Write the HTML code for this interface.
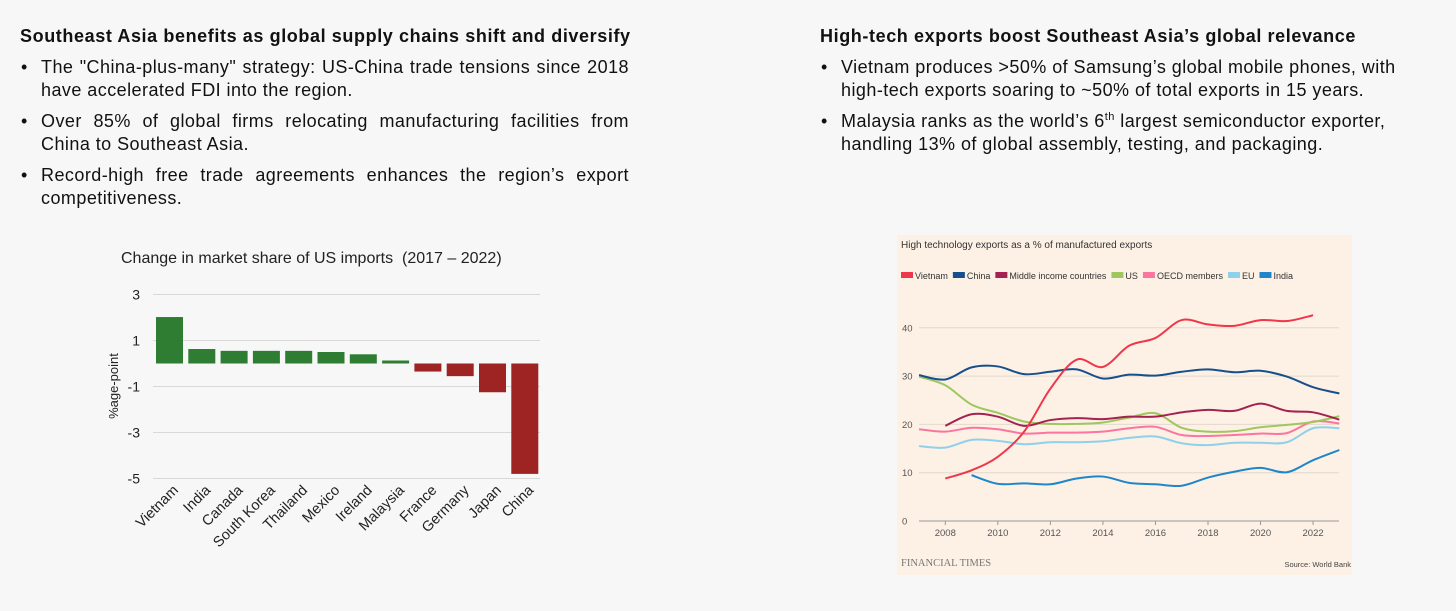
<!DOCTYPE html>
<html><head><meta charset="utf-8">
<style>
body{margin:0;width:1456px;height:611px;background:#f7f7f7;font-family:"Liberation Sans",sans-serif;color:#111;position:relative;overflow:hidden}
.h{position:absolute;font-size:18px;font-weight:bold;top:26px;letter-spacing:0.6px}
.b{position:absolute;font-size:18px;line-height:22.5px;letter-spacing:0.45px}
.b .d{position:absolute;left:-20px}
sup{font-size:11px;line-height:0}
svg{position:absolute;left:0;top:0}
</style></head><body>
<div class="h" style="left:20px">Southeast Asia benefits as global supply chains shift and diversify</div>
<div class="b" style="left:41px;top:56px;width:588px;text-align:justify"><span class="d">•</span>The "China-plus-many" strategy: US-China trade tensions since 2018 have accelerated FDI into the region.</div>
<div class="b" style="left:41px;top:110px;width:588px;text-align:justify"><span class="d">•</span>Over 85% of global firms relocating manufacturing facilities from China to Southeast Asia.</div>
<div class="b" style="left:41px;top:164px;width:588px;text-align:justify"><span class="d">•</span>Record-high free trade agreements enhances the region’s export competitiveness.</div>
<div class="h" style="left:820px">High-tech exports boost Southeast Asia’s global relevance</div>
<div class="b" style="left:841px;top:56px;width:580px"><span class="d">•</span>Vietnam produces &gt;50% of Samsung’s global mobile phones, with high-tech exports soaring to ~50% of total exports in 15 years.</div>
<div class="b" style="left:841px;top:110px;width:580px"><span class="d">•</span>Malaysia ranks as the world’s 6<sup>th</sup> largest semiconductor exporter, handling 13% of global assembly, testing, and packaging.</div>
<svg id="s" width="1456" height="611" xmlns="http://www.w3.org/2000/svg"></svg>
<script>
const barCats=["Vietnam","India","Canada","South Korea","Thailand","Mexico","Ireland","Malaysia","France","Germany","Japan","China"];
const barVals=[2.02,0.63,0.55,0.55,0.55,0.5,0.4,0.13,-0.35,-0.55,-1.25,-4.8];
const barTicks=[3,1,-1,-3,-5];
const years=[2007,2008,2009,2010,2011,2012,2013,2014,2015,2016,2017,2018,2019,2020,2021,2022,2023];
const vietnam=[null,8.8,10.5,13.3,18.5,27.4,33.4,31.9,36.3,37.9,41.6,40.7,40.4,41.6,41.4,42.6,null];
const china=[30.2,29.3,31.8,32,30.4,30.9,31.4,29.5,30.3,30.1,30.9,31.4,30.8,31.1,29.9,27.7,26.4];
const middleIncome=[null,19.7,22.1,21.6,19.7,20.9,21.3,21.1,21.6,21.6,22.5,23,22.8,24.3,22.8,22.5,21.0];
const us=[29.9,28.1,24.1,22.4,20.6,20.1,20.1,20.4,21.4,22.3,19.3,18.5,18.6,19.4,19.9,20.5,21.7];
const oecd=[19,18.5,19.3,19,18.1,18.3,18.3,18.5,19.2,19.5,17.8,17.6,17.8,18.1,18.2,20.6,20.2];
const eu=[15.5,15.2,16.8,16.6,15.9,16.3,16.3,16.5,17.2,17.5,16.1,15.7,16.2,16.2,16.3,19.2,19.2];
const india=[null,null,9.5,7.7,7.8,7.6,8.8,9.2,7.9,7.6,7.3,9.0,10.2,11.0,10.1,12.6,14.7];
const lineTicks=[0,10,20,30,40];
const xTicks=[2008,2010,2012,2014,2016,2018,2020,2022];

const S=document.getElementById('s');const NS="http://www.w3.org/2000/svg";
function mk(t,a,txt){const e=document.createElementNS(NS,t);for(const k in a)e.setAttribute(k,a[k]);if(txt!=null)e.textContent=txt;S.appendChild(e);return e;}

// ---- bar chart
const by=v=>363.5-v*23;const bx=i=>156+i*32.3;
let e=mk('text',{x:121,y:263,'font-size':16,fill:'#222'},"Change in market share of US imports \u00a0(2017 \u2013 2022)");

barTicks.forEach(t=>{
 e=mk('line',{x1:153,x2:540,y1:by(t),y2:by(t),stroke:'#d8d8d8','stroke-width':1});
 
 e=mk('text',{x:140,y:by(t)+5,'font-size':14,'text-anchor':'end',fill:'#222'},String(t));
 
});
e=mk('text',{x:0,y:0,'font-size':13,'text-anchor':'middle',fill:'#222',transform:'translate(118,386) rotate(-90)'},"%age-point");

barVals.forEach((v,i)=>{
 const y0=Math.min(by(v),by(0)),h=Math.abs(by(v)-by(0));
 e=mk('rect',{x:bx(i),y:y0,width:27,height:h,fill:v>=0?'#2e7d32':'#9e2424'});
 
 e=mk('text',{x:0,y:0,'font-size':14.5,'text-anchor':'end',fill:'#222',transform:`translate(${bx(i)+23},${491}) rotate(-45)`},barCats[i]);
 
});

// ---- line chart
e=mk('rect',{x:897,y:235,width:455,height:340,fill:'#fdf1e5'});

const lx=yr=>945.3+(yr-2008)*26.27;const ly=v=>521-v*4.83;
e=mk('text',{x:901,y:248,'font-size':10,fill:'#333'},"High technology exports as a % of manufactured exports");

const series=[["Vietnam",vietnam,'#f0364a'],["China",china,'#174f8c'],["Middle income countries",middleIncome,'#a3224f'],["US",us,'#9ec75e'],["OECD members",oecd,'#fb75a0'],["EU",eu,'#8fd0ea'],["India",india,'#1f86c9']];
let legX=901;
series.forEach(s=>{
 e=mk('rect',{x:legX,y:272,width:12,height:6,fill:s[2]});
 
 e=mk('text',{x:legX+14,y:279,'font-size':9,fill:'#333'},s[0]);
 
 legX+=14+e.getComputedTextLength()+5;
});
lineTicks.forEach(t=>{
 e=mk('line',{x1:919,x2:1339,y1:ly(t),y2:ly(t),stroke:t==0?'#999':'#e2d8cf','stroke-width':1});
 
 e=mk('text',{x:902,y:ly(t)+3.5,'font-size':9.5,fill:'#555'},String(t));
 
});
xTicks.forEach(t=>{
 e=mk('line',{x1:lx(t),x2:lx(t),y1:521,y2:525,stroke:'#999'});
 
 e=mk('text',{x:lx(t),y:536,'font-size':9.5,'text-anchor':'middle',fill:'#555'},String(t));
 
});
function path(vals){
 const p=[];years.forEach((y,i)=>{if(vals[i]!=null)p.push([lx(y),ly(vals[i])]);});
 let d=`M${p[0][0]},${p[0][1]}`;
 for(let i=0;i<p.length-1;i++){
  const p0=p[i-1]||p[i],p1=p[i],p2=p[i+1],p3=p[i+2]||p2;
  const c1=[p1[0]+(p2[0]-p0[0])/6,p1[1]+(p2[1]-p0[1])/6],c2=[p2[0]-(p3[0]-p1[0])/6,p2[1]-(p3[1]-p1[1])/6];
  d+=` C${c1[0]},${c1[1]} ${c2[0]},${c2[1]} ${p2[0]},${p2[1]}`;
 }
 return d;
}
[...series].reverse().forEach(s=>{
 e=mk('path',{d:path(s[1]),fill:'none',stroke:s[2],'stroke-width':2});
 
});
e=mk('text',{x:901,y:566,'font-size':10.5,fill:'#777','font-family':'Liberation Serif, serif'},"FINANCIAL TIMES");

e=mk('text',{x:1351,y:567,'font-size':7.5,'text-anchor':'end',fill:'#444'},"Source: World Bank");

</script>
</body></html>
